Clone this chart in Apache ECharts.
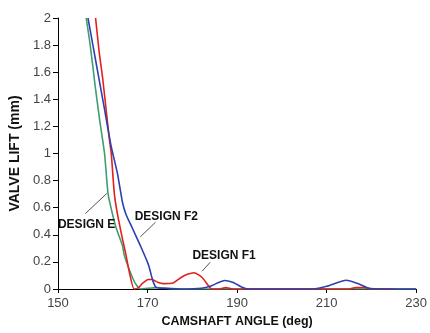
<!DOCTYPE html>
<html>
<head>
<meta charset="utf-8">
<script src="https://cdn.jsdelivr.net/npm/echarts@6/dist/echarts.min.js"></script>
<style>
html,body{margin:0;padding:0;background:#fff;}
#chart{width:430px;height:333px;}
</style>
</head>
<body>
<div id="chart"></div>
<script>
// Camshaft angle (deg), valve lift (mm)
const designE = [
  [156.3,2.0],[157.2,1.8],[158.3,1.5],[159.3,1.25],[160.4,1.0],[161.2,0.7],[162.2,0.55],
  [163.0,0.45],[164.4,0.32],[164.8,0.25],[166.2,0.12],[167.3,0.04],[168.5,0.0],[170,0.005],
  [172,0.01],[174,0.005],[176,0],[185,0],[200,0],[230,0]
];
const designF2 = [
  [156.7,2.0],[157.8,1.8],[159.0,1.58],[160.0,1.4],[160.8,1.25],[161.9,1.05],[163.3,0.85],
  [164.4,0.64],[165.2,0.55],[166.6,0.45],[168.4,0.32],[170.2,0.18],[171.2,0.06],[172,0.01],
  [174,0.005],[178,0],[182,0.005],[184,0.02],[186,0.05],[187.2,0.063],[189,0.05],[191,0.015],
  [192.5,0],[200,0],[207,0],[210,0.02],[214.4,0.065],[217,0.04],[219.5,0.005],[222,0],[230,0]
];
const designF1 = [
  [158.4,2.0],[159.2,1.75],[160,1.55],[160.8,1.31],[161.5,1.1],[161.9,1.0],[162.6,0.7],
  [163.3,0.55],[164.4,0.37],[165.2,0.25],[165.9,0.13],[167,0],[168,0.01],[168.8,0.04],
  [170.2,0.07],[171,0.07],[172.4,0.048],[173.5,0.04],[175.5,0.042],[177.5,0.085],[178.9,0.108],
  [180.4,0.12],[182.2,0.085],[183.6,0.024],[184.3,0],[186,0],[187.5,0.01],[189,0],[215,0],
  [216.5,0.01],[218.5,0.01],[220,0],[225,0]
];
const xTicks = {min:150, max:230, interval:20};
const yTicks = {min:0, max:2, interval:0.2};
// annotations: [label, textAnchor [x,y], pointer from [x,y], pointer to [x,y]] in data units
const annotations = [
  ['DESIGN E',  [156.4,0.477], [156.1,0.556], [160.9,0.705]],
  ['DESIGN F2', [174.2,0.534], [168.4,0.385], [171.8,0.493]],
  ['DESIGN F1', [187.1,0.245], [182.2,0.132], [184.0,0.197]]
];

const chart = echarts.init(document.getElementById('chart'), null, {renderer:'canvas'});
const labelFont = {fontFamily:'Liberation Sans, Arial, sans-serif', fontSize:13, color:'#444'};
const nameFont = {fontFamily:'Liberation Sans, Arial, sans-serif', fontSize:12, fontWeight:'bold', color:'#111'};

function lineSeries(name, data, color){
  return {name, type:'line', data, showSymbol:false, symbol:'none', smooth:0.2,
    lineStyle:{color, width:1.6}, itemStyle:{color}, clip:true, animation:false};
}

chart.setOption({
  animation:false,
  backgroundColor:'#fff',
  grid:{left:56, right:6, top:18, bottom:38, containLabel:false},
  xAxis:{
    type:'value', min:xTicks.min, max:xTicks.max, interval:xTicks.interval,
    name:'CAMSHAFT ANGLE (deg)', nameLocation:'middle', nameGap:26,
    nameTextStyle:Object.assign({}, nameFont, {fontSize:12.5}),
    axisLine:{show:true, lineStyle:{color:'#000', width:1}},
    axisTick:{show:true, length:4, lineStyle:{color:'#000'}},
    axisLabel:Object.assign({margin:8}, labelFont),
    splitLine:{show:false}
  },
  yAxis:{
    type:'value', min:yTicks.min, max:yTicks.max, interval:yTicks.interval,
    name:'VALVE LIFT (mm)', nameLocation:'middle', nameGap:30,
    nameTextStyle:Object.assign({}, nameFont, {fontSize:14}),
    axisLine:{show:true, lineStyle:{color:'#000', width:1}},
    axisTick:{show:true, length:5, lineStyle:{color:'#000'}},
    axisLabel:Object.assign({margin:7}, labelFont),
    splitLine:{show:false}
  },
  series:[
    lineSeries('DESIGN E', designE, '#3e9e72'),
    lineSeries('DESIGN F1', designF1, '#e3201e'),
    lineSeries('DESIGN F2', designF2, '#2f3fb0')
  ]
});

const graphics = [];
annotations.forEach(([text, anchor, p1, p2])=>{
  const a = chart.convertToPixel({gridIndex:0}, anchor);
  const q1 = chart.convertToPixel({gridIndex:0}, p1);
  const q2 = chart.convertToPixel({gridIndex:0}, p2);
  graphics.push({type:'line', shape:{x1:q1[0], y1:q1[1], x2:q2[0], y2:q2[1]},
    style:{stroke:'#555', lineWidth:1}, z:10});
  graphics.push({type:'text', x:a[0], y:a[1], z:11,
    style:{text, fill:'#111', font:'bold 12px "Liberation Sans", Arial, sans-serif',
      align:'center', verticalAlign:'middle'}});
});
chart.setOption({graphic:graphics});
</script>
</body>
</html>
